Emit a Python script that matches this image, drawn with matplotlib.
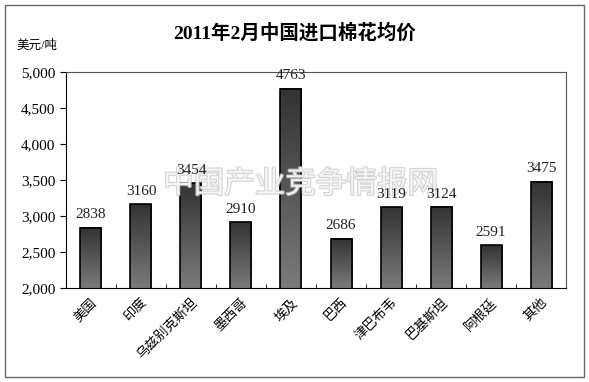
import matplotlib
matplotlib.use("Agg")
import matplotlib.pyplot as plt
import matplotlib.patheffects as pe
import numpy as np

plt.rcParams['font.family'] = ['Liberation Serif', 'Noto Sans CJK SC', 'DejaVu Sans']

# data
countries = ["美国", "印度", "乌兹别克斯坦", "墨西哥", "埃及", "巴西",
             "津巴布韦", "巴基斯坦", "阿根廷", "其他"]
prices = [2838, 3160, 3454, 2910, 4763, 2686, 3119, 3124, 2591, 3475]
yticks = [2000, 2500, 3000, 3500, 4000, 4500, 5000]

fig = plt.figure(figsize=(5.89, 3.82), dpi=100)
ax = fig.add_axes([0.112, 0.246, 0.849, 0.566])

x = np.arange(len(countries))
bars = ax.bar(x, prices, width=0.42, bottom=0, facecolor='none',
              edgecolor='black', linewidth=1.2, zorder=3)

# vertical gradient inside each bar: dark at top, lighter at bottom
grad = np.linspace(0.2, 0.48, 256).reshape(-1, 1)
for b in bars:
    x0, w, h = b.get_x(), b.get_width(), b.get_height()
    ax.imshow(grad, cmap='gray', vmin=0, vmax=1, aspect='auto',
              extent=[x0, x0 + w, 2000, h], origin='upper', zorder=2)

for xi, v in zip(x, prices):
    ax.text(xi, v + 90, str(v), ha='center', va='bottom', fontsize=11,
            color='#222222', zorder=5)

ax.set_xlim(-0.5, len(countries) - 0.5)
ax.set_ylim(2000, 5000)
ax.set_yticks(yticks)
ax.set_yticklabels([f"{t:,}" for t in yticks], fontsize=11)
ax.set_xticks(x)
ax.set_xticklabels(countries, rotation=45, ha='right', rotation_mode='anchor',
                   fontsize=9.5)
ax.tick_params(axis='x', length=0, pad=6)
ax.tick_params(axis='y', length=4, direction='out')
ax.set_xticks(np.arange(len(countries) + 1) - 0.5, minor=True)
ax.tick_params(axis='x', which='minor', length=3, direction='in')
for s in ax.spines.values():
    s.set_linewidth(0.8)
    s.set_color('#555555')
ax.spines['left'].set_color('black')
ax.spines['bottom'].set_color('black')

fig.text(0.5, 0.915, "2011年2月中国进口棉花均价", ha='center', va='center',
         fontsize=14, fontweight='bold')
fig.text(0.028, 0.88, "美元/吨", ha='left', va='center', fontsize=9)

# watermark: above the bars, below the value labels
ax.text(0.51, 0.515, "中国产业竞争情报网", ha='center', va='center',
        transform=fig.transFigure, fontsize=22, color='white', alpha=0.75,
        zorder=4, clip_on=False,
        path_effects=[pe.withStroke(linewidth=1.5, foreground='#c4c4c4')])

# outer frame
fig.add_artist(plt.Rectangle((0.009, 0.012), 0.982, 0.975, transform=fig.transFigure,
                             fill=False, edgecolor='#666666', linewidth=1))

fig.savefig("out.png", dpi=100)
